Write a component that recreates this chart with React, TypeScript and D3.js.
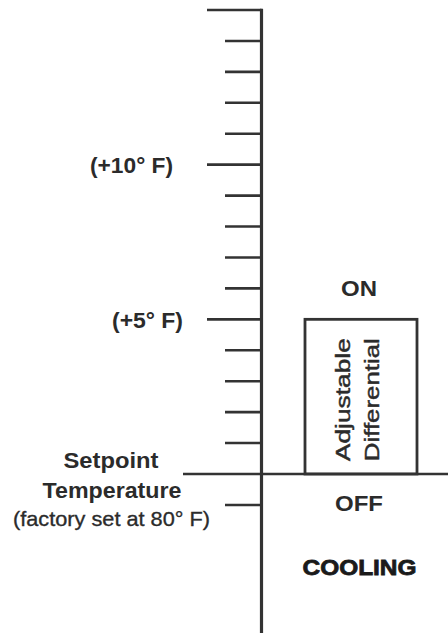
import React from "react";
import * as d3 from "d3";

const W = 448;
const H = 633;

// Degrees above setpoint (°F offset)
const tickValues = [15, 14, 13, 12, 11, 10, 9, 8, 7, 6, 5, 4, 3, 2, 1, -1];
const majorTicks = [15, 10, 5];
const labelTicks = [10, 5];
const labelTexts = ["(+10° F)", "(+5° F)"];
const setpointValue = 0;
const differential = [0, 5];
const setpointLines = ["Setpoint", "Temperature"];
const setpointNote = "(factory set at 80° F)";
const boxLines = ["Adjustable", "Differential"];
const stateOn = "ON";
const stateOff = "OFF";
const modeLabel = "COOLING";

const FONT = "'Liberation Sans', Arial, Helvetica, sans-serif";
const INK = "#2b2b2b";
const LINE = "#333";

export default function App() {
  const y = d3.scaleLinear().domain([0, 15]).range([474, 10]);
  const axisX = 261.5;
  const shortLeft = 225;
  const longLeft = 207;
  const boxX0 = 305;
  const boxX1 = 417;
  const labelEnds = [173, 183];
  const labelLens = [83, 71];

  return (
    <svg
      width={W}
      height={H}
      style={{ position: "absolute", left: 0, top: 0, background: "#fff" }}
      fontFamily={FONT}
    >
      {/* ticks */}
      {tickValues.map((v) => (
        <line
          key={v}
          x1={majorTicks.includes(v) ? longLeft : shortLeft}
          x2={axisX}
          y1={y(v)}
          y2={y(v)}
          stroke={LINE}
          strokeWidth={2.6}
        />
      ))}
      {/* setpoint line */}
      <line x1={183} x2={W} y1={y(setpointValue)} y2={y(setpointValue)} stroke={LINE} strokeWidth={2.6} />
      {/* axis */}
      <line x1={axisX} x2={axisX} y1={y(15) - 1.3} y2={H} stroke={LINE} strokeWidth={3.2} />

      {/* tick labels */}
      {labelTicks.map((v, i) => (
        <text
          key={v}
          x={labelEnds[i]}
          y={y(v) + 8.5}
          textAnchor="end"
          fontSize={22}
          fontWeight="bold"
          fill={INK}
          textLength={labelLens[i]}
          lengthAdjust="spacingAndGlyphs"
        >
          {labelTexts[i]}
        </text>
      ))}

      {/* differential box */}
      <rect
        x={boxX0}
        y={y(differential[1])}
        width={boxX1 - boxX0}
        height={y(differential[0]) - y(differential[1])}
        fill="none"
        stroke={LINE}
        strokeWidth={2.8}
      />
      {boxLines.map((t, i) => {
        const bx = 350 + i * 29;
        const cy = (y(differential[0]) + y(differential[1])) / 2 + 3;
        return (
          <text
            key={t}
            transform={`translate(${bx},${cy}) rotate(-90)`}
            textAnchor="middle"
            fontSize={21}
            fill={INK}
            stroke={INK}
            strokeWidth={0.45}
            textLength={123}
            lengthAdjust="spacingAndGlyphs"
          >
            {t}
          </text>
        );
      })}

      <text x={359} y={296} textAnchor="middle" fontSize={22} fontWeight="bold" fill={INK} textLength={36} lengthAdjust="spacingAndGlyphs">
        {stateOn}
      </text>
      <text x={359} y={511} textAnchor="middle" fontSize={22} fontWeight="bold" fill={INK} textLength={48} lengthAdjust="spacingAndGlyphs">
        {stateOff}
      </text>
      <text
        x={359.5}
        y={575}
        textAnchor="middle"
        fontSize={22}
        fontWeight="bold"
        fill="#1a1a1a"
        stroke="#1a1a1a"
        strokeWidth={0.8}
        textLength={114}
        lengthAdjust="spacingAndGlyphs"
      >
        {modeLabel}
      </text>

      {/* setpoint labels */}
      <text x={111} y={468} textAnchor="middle" fontSize={22} fontWeight="bold" fill={INK} textLength={95} lengthAdjust="spacingAndGlyphs">
        {setpointLines[0]}
      </text>
      <text x={112} y={498} textAnchor="middle" fontSize={22} fontWeight="bold" fill={INK} textLength={139} lengthAdjust="spacingAndGlyphs">
        {setpointLines[1]}
      </text>
      <text
        x={111.5}
        y={526}
        textAnchor="middle"
        fontSize={21}
        fill={INK}
        stroke={INK}
        strokeWidth={0.35}
        textLength={197}
        lengthAdjust="spacingAndGlyphs"
      >
        {setpointNote}
      </text>
    </svg>
  );
}
